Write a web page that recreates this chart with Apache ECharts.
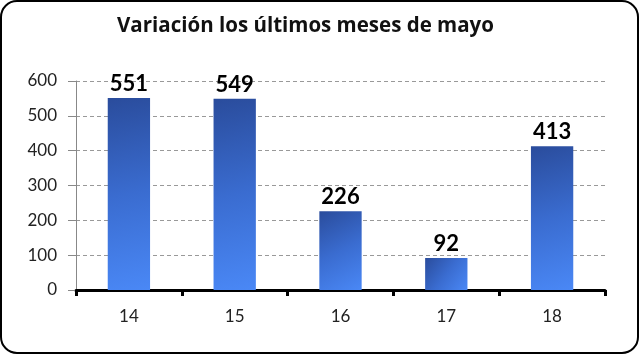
<!DOCTYPE html>
<html><head><meta charset="utf-8">
<script src="https://cdn.jsdelivr.net/npm/echarts@6/dist/echarts.min.js"></script>
<style>html,body{margin:0;padding:0;background:#fff}#c{width:640px;height:356px}</style>
</head><body><div id="c"></div>
<script>
const categories = ['14', '15', '16', '17', '18'];
const values = [551, 549, 226, 92, 413];
const yTicks = [0, 100, 200, 300, 400, 500, 600];
const titleText = 'Variación los últimos meses de mayo';

const chart = echarts.init(document.getElementById('c'));
chart.setOption({
  animation: false,
  backgroundColor: '#fff',
  title: {
    text: titleText, left: 112, top: 11,
    textStyle: { fontFamily: 'Open Sans', fontWeight: 'bold', fontSize: 20.5, color: '#111' }
  },
  graphic: [{
    type: 'rect', silent: true, z: 100,
    shape: { x: 1, y: 1, width: 637, height: 352, r: 16 },
    style: { fill: 'none', stroke: '#000', lineWidth: 2 }
  }],
  grid: { left: 76, right: 35, top: 81, bottom: 66 },
  xAxis: {
    type: 'category', data: categories,
    axisLine: { lineStyle: { color: '#000', width: 3 } },
    axisTick: { show: true, length: 6, lineStyle: { color: '#000', width: 3 } },
    axisLabel: { margin: 18, fontFamily: 'Lato', fontSize: 17, color: '#222' }
  },
  yAxis: {
    type: 'value', min: yTicks[0], max: yTicks[yTicks.length - 1], interval: 100,
    axisLine: { show: true, lineStyle: { color: '#888', width: 1 } },
    axisTick: { show: true, length: 8, lineStyle: { color: '#888' } },
    axisLabel: { margin: 19, fontFamily: 'Lato', fontSize: 17, color: '#222' },
    splitLine: { lineStyle: { color: '#999', type: [4, 3], width: 1 } }
  },
  series: [{
    type: 'bar', data: values, barWidth: '40%',
    itemStyle: {
      color: new echarts.graphic.LinearGradient(0, 0, 1, 1, [
        { offset: 0, color: '#2A4C9C' },
        { offset: 0.5, color: '#3A6CD0' },
        { offset: 1, color: '#4A88F6' }
      ])
    },
    label: {
      show: true, position: 'top', distance: 3,
      fontFamily: 'Lato', fontWeight: 'bold', fontSize: 22, color: '#000'
    }
  }]
});
</script></body></html>
